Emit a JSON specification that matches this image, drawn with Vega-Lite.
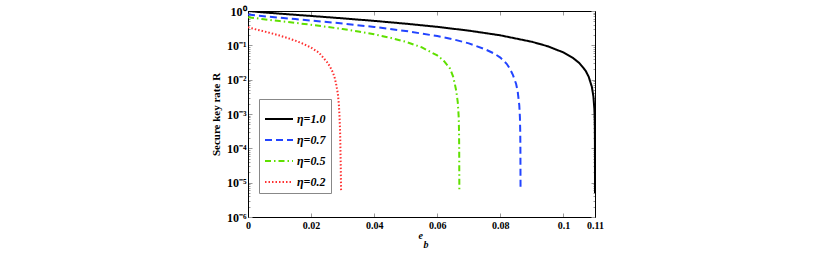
{
  "$schema": "https://vega.github.io/schema/vega-lite/v6.json",
  "width": 347,
  "height": 206,
  "autosize": "none",
  "padding": {"left": 248, "top": 11, "right": 235, "bottom": 40},
  "background": "white",
  "config": {
    "view": {"stroke": "#000", "strokeWidth": 1},
    "font": "Liberation Serif, serif"
  },
  "data": {
    "values": [
      {"e": 0, "R": 1.0, "s": "η=1.0"},
      {"e": 0.005, "R": 0.9092, "s": "η=1.0"},
      {"e": 0.01, "R": 0.8384, "s": "η=1.0"},
      {"e": 0.015, "R": 0.7753, "s": "η=1.0"},
      {"e": 0.02, "R": 0.7171, "s": "η=1.0"},
      {"e": 0.03, "R": 0.6112, "s": "η=1.0"},
      {"e": 0.04, "R": 0.5154, "s": "η=1.0"},
      {"e": 0.05, "R": 0.4272, "s": "η=1.0"},
      {"e": 0.06, "R": 0.3452, "s": "η=1.0"},
      {"e": 0.07, "R": 0.268, "s": "η=1.0"},
      {"e": 0.08, "R": 0.1956, "s": "η=1.0"},
      {"e": 0.09, "R": 0.1269, "s": "η=1.0"},
      {"e": 0.095, "R": 0.0941, "s": "η=1.0"},
      {"e": 0.1, "R": 0.062, "s": "η=1.0"},
      {"e": 0.103, "R": 0.0431, "s": "η=1.0"},
      {"e": 0.105, "R": 0.0307, "s": "η=1.0"},
      {"e": 0.107, "R": 0.0184, "s": "η=1.0"},
      {"e": 0.108, "R": 0.0122, "s": "η=1.0"},
      {"e": 0.109, "R": 0.0062, "s": "η=1.0"},
      {"e": 0.1095, "R": 0.0032, "s": "η=1.0"},
      {"e": 0.1098, "R": 0.0014, "s": "η=1.0"},
      {"e": 0.1099, "R": 0.0008, "s": "η=1.0"},
      {"e": 0.10995, "R": 0.0004, "s": "η=1.0"},
      {"e": 0.10998, "R": 0.0001, "s": "η=1.0"},
      {"e": 0.10999, "R": 0.00003, "s": "η=1.0"},
      {"e": 0.11, "R": 0.000005, "s": "η=1.0"},

      {"e": 0, "R": 0.79, "s": "η=0.7"},
      {"e": 0.005, "R": 0.705, "s": "η=0.7"},
      {"e": 0.01, "R": 0.64, "s": "η=0.7"},
      {"e": 0.015, "R": 0.582, "s": "η=0.7"},
      {"e": 0.02, "R": 0.528, "s": "η=0.7"},
      {"e": 0.03, "R": 0.432, "s": "η=0.7"},
      {"e": 0.04, "R": 0.343, "s": "η=0.7"},
      {"e": 0.05, "R": 0.262, "s": "η=0.7"},
      {"e": 0.06, "R": 0.186, "s": "η=0.7"},
      {"e": 0.065, "R": 0.15, "s": "η=0.7"},
      {"e": 0.07, "R": 0.114, "s": "η=0.7"},
      {"e": 0.075, "R": 0.078, "s": "η=0.7"},
      {"e": 0.078, "R": 0.058, "s": "η=0.7"},
      {"e": 0.08, "R": 0.044, "s": "η=0.7"},
      {"e": 0.082, "R": 0.029, "s": "η=0.7"},
      {"e": 0.083, "R": 0.021, "s": "η=0.7"},
      {"e": 0.084, "R": 0.0135, "s": "η=0.7"},
      {"e": 0.085, "R": 0.0075, "s": "η=0.7"},
      {"e": 0.0855, "R": 0.0045, "s": "η=0.7"},
      {"e": 0.086, "R": 0.0018, "s": "η=0.7"},
      {"e": 0.0862, "R": 0.0008, "s": "η=0.7"},
      {"e": 0.0863, "R": 0.0003, "s": "η=0.7"},
      {"e": 0.08635, "R": 0.0001, "s": "η=0.7"},
      {"e": 0.0864, "R": 0.000006, "s": "η=0.7"},

      {"e": 0, "R": 0.66, "s": "η=0.5"},
      {"e": 0.005, "R": 0.5755, "s": "η=0.5"},
      {"e": 0.01, "R": 0.5096, "s": "η=0.5"},
      {"e": 0.015, "R": 0.4508, "s": "η=0.5"},
      {"e": 0.02, "R": 0.3969, "s": "η=0.5"},
      {"e": 0.025, "R": 0.3461, "s": "η=0.5"},
      {"e": 0.03, "R": 0.2982, "s": "η=0.5"},
      {"e": 0.035, "R": 0.2526, "s": "η=0.5"},
      {"e": 0.04, "R": 0.2091, "s": "η=0.5"},
      {"e": 0.045, "R": 0.1672, "s": "η=0.5"},
      {"e": 0.05, "R": 0.127, "s": "η=0.5"},
      {"e": 0.055, "R": 0.0881, "s": "η=0.5"},
      {"e": 0.06, "R": 0.0507, "s": "η=0.5"},
      {"e": 0.062, "R": 0.036, "s": "η=0.5"},
      {"e": 0.064, "R": 0.0214, "s": "η=0.5"},
      {"e": 0.065, "R": 0.0125, "s": "η=0.5"},
      {"e": 0.0655, "R": 0.008, "s": "η=0.5"},
      {"e": 0.066, "R": 0.0048, "s": "η=0.5"},
      {"e": 0.0665, "R": 0.0022, "s": "η=0.5"},
      {"e": 0.0668, "R": 0.0008, "s": "η=0.5"},
      {"e": 0.0669, "R": 0.0003, "s": "η=0.5"},
      {"e": 0.06695, "R": 0.0001, "s": "η=0.5"},
      {"e": 0.067, "R": 0.000006, "s": "η=0.5"},

      {"e": 0, "R": 0.336, "s": "η=0.2"},
      {"e": 0.0025, "R": 0.291, "s": "η=0.2"},
      {"e": 0.005, "R": 0.256, "s": "η=0.2"},
      {"e": 0.0075, "R": 0.223, "s": "η=0.2"},
      {"e": 0.01, "R": 0.193, "s": "η=0.2"},
      {"e": 0.0125, "R": 0.164, "s": "η=0.2"},
      {"e": 0.015, "R": 0.137, "s": "η=0.2"},
      {"e": 0.0175, "R": 0.111, "s": "η=0.2"},
      {"e": 0.02, "R": 0.0857, "s": "η=0.2"},
      {"e": 0.0225, "R": 0.061, "s": "η=0.2"},
      {"e": 0.025, "R": 0.033, "s": "η=0.2"},
      {"e": 0.026, "R": 0.024, "s": "η=0.2"},
      {"e": 0.027, "R": 0.0155, "s": "η=0.2"},
      {"e": 0.0275, "R": 0.0112, "s": "η=0.2"},
      {"e": 0.028, "R": 0.007, "s": "η=0.2"},
      {"e": 0.0285, "R": 0.0038, "s": "η=0.2"},
      {"e": 0.0288, "R": 0.0019, "s": "η=0.2"},
      {"e": 0.029, "R": 0.0009, "s": "η=0.2"},
      {"e": 0.0292, "R": 0.0003, "s": "η=0.2"},
      {"e": 0.0293, "R": 0.0001, "s": "η=0.2"},
      {"e": 0.0294, "R": 0.00003, "s": "η=0.2"},
      {"e": 0.0295, "R": 0.000006, "s": "η=0.2"}
    ]
  },
  "layer": [
    {
      "mark": {"type": "line", "clip": true},
      "encoding": {
        "x": {
          "field": "e", "type": "quantitative",
          "scale": {"domain": [0, 0.11], "nice": false, "zero": false},
          "axis": {
            "orient": "bottom",
            "values": [0, 0.02, 0.04, 0.06, 0.08, 0.1, 0.11],
            "labelExpr": "datum.value == 0 ? '0' : format(datum.value, '.2~f')",
            "grid": false,
            "domainColor": "#000",
            "domainWidth": 1,
            "tickColor": "#999",
            "tickSize": -4,
            "labelPadding": 7,
            "labelFlush": false,
            "labelOverlap": false,
            "labelFont": "Liberation Serif, serif",
            "labelFontSize": 10,
            "labelFontWeight": "bold",
            "labelColor": "#000",
            "title": ["e", "\u200b\u00a0\u00a0b"],
            "titleAlign": "left",
            "titleX": 170,
            "titleFont": "Liberation Serif, serif",
            "titleFontSize": 10,
            "titleFontStyle": "italic",
            "titleFontWeight": "bold",
            "titleLineHeight": 9,
            "titlePadding": 0,
            "titleColor": "#000"
          }
        },
        "y": {
          "field": "R", "type": "quantitative",
          "scale": {"type": "log", "domain": [0.000001, 1], "nice": false},
          "axis": {
            "orient": "left",
            "values": [1e-6, 2e-6, 3e-6, 4e-6, 5e-6, 6e-6, 7e-6, 8e-6, 9e-6, 1e-5, 2e-5, 3e-5, 4e-5, 5e-5, 6e-5, 7e-5, 8e-5, 9e-5, 1e-4, 2e-4, 3e-4, 4e-4, 5e-4, 6e-4, 7e-4, 8e-4, 9e-4, 1e-3, 2e-3, 3e-3, 4e-3, 5e-3, 6e-3, 7e-3, 8e-3, 9e-3, 1e-2, 2e-2, 3e-2, 4e-2, 5e-2, 6e-2, 7e-2, 8e-2, 9e-2, 0.1, 0.2, 0.3, 0.4, 0.5, 0.6, 0.7, 0.8, 0.9, 1],
            "labelExpr": "abs(log(datum.value)/LN10 - round(log(datum.value)/LN10)) > 0.001 ? '' : (round(log(datum.value)/LN10) == 0 ? '10⁰' : round(log(datum.value)/LN10) == -1 ? '10⁻¹' : round(log(datum.value)/LN10) == -2 ? '10⁻²' : round(log(datum.value)/LN10) == -3 ? '10⁻³' : round(log(datum.value)/LN10) == -4 ? '10⁻⁴' : round(log(datum.value)/LN10) == -5 ? '10⁻⁵' : '10⁻⁶')",
            "grid": false,
            "domainColor": "#000",
            "domainWidth": 1,
            "tickColor": "#999",
            "tickSize": {"condition": {"test": "abs(log(datum.value)/LN10 - round(log(datum.value)/LN10)) < 0.001", "value": -4}, "value": -2},
            "labelPadding": 6,
            "labelOverlap": false,
            "labelFont": "Liberation Serif, serif",
            "labelFontSize": 12,
            "labelFontWeight": "bold",
            "labelColor": "#000",
            "title": "Secure key rate R",
            "titleFont": "Liberation Serif, serif",
            "titleFontSize": 11,
            "titleFontWeight": "bold",
            "titleColor": "#000",
            "titlePadding": 5
          }
        },
        "color": {
          "field": "s", "type": "nominal",
          "scale": {"domain": ["η=1.0", "η=0.7", "η=0.5", "η=0.2"], "range": ["#000000", "#2244ff", "#5fe000", "#ff3030"]},
          "legend": {
            "orient": "none", "legendX": 11, "legendY": 88,
            "title": null,
            "symbolType": "stroke",
            "symbolSize": 784,
            "symbolStrokeWidth": 2,
            "rowPadding": -7,
            "padding": 5,
            "strokeColor": "#888",
            "fillColor": "#ffffff",
            "labelFont": "Liberation Serif, serif",
            "labelFontSize": 12,
            "labelFontWeight": "bold",
            "labelFontStyle": "italic",
            "labelColor": "#000",
            "labelOffset": 3
          }
        },
        "strokeDash": {
          "field": "s", "type": "nominal",
          "scale": {"domain": ["η=1.0", "η=0.7", "η=0.5", "η=0.2"], "range": [[1, 0], [7, 4], [6, 3, 1.5, 3], [1.5, 2]]},
          "legend": {
            "orient": "none", "legendX": 11, "legendY": 88,
            "title": null,
            "symbolType": "stroke",
            "symbolSize": 784,
            "symbolStrokeWidth": 2,
            "rowPadding": -7,
            "padding": 5,
            "strokeColor": "#888",
            "fillColor": "#ffffff",
            "labelFont": "Liberation Serif, serif",
            "labelFontSize": 12,
            "labelFontWeight": "bold",
            "labelFontStyle": "italic",
            "labelColor": "#000",
            "labelOffset": 3
          }
        },
        "strokeWidth": {
          "field": "s", "type": "nominal",
          "scale": {"domain": ["η=1.0", "η=0.7", "η=0.5", "η=0.2"], "range": [2, 2, 1.6, 1.5]},
          "legend": null
        },
        "order": {"field": "e", "type": "quantitative"}
      }
    },
    {
      "mark": {"type": "line", "opacity": 0},
      "encoding": {
        "x": {
          "field": "e", "type": "quantitative",
          "axis": {
            "orient": "top",
            "values": [0, 0.02, 0.04, 0.06, 0.08, 0.1, 0.11],
            "labels": false,
            "grid": false,
            "domainColor": "#000",
            "tickColor": "#999",
            "tickSize": -4,
            "title": null
          }
        },
        "y": {
          "field": "R", "type": "quantitative",
          "axis": {
            "orient": "right",
            "values": [1e-6, 2e-6, 3e-6, 4e-6, 5e-6, 6e-6, 7e-6, 8e-6, 9e-6, 1e-5, 2e-5, 3e-5, 4e-5, 5e-5, 6e-5, 7e-5, 8e-5, 9e-5, 1e-4, 2e-4, 3e-4, 4e-4, 5e-4, 6e-4, 7e-4, 8e-4, 9e-4, 1e-3, 2e-3, 3e-3, 4e-3, 5e-3, 6e-3, 7e-3, 8e-3, 9e-3, 1e-2, 2e-2, 3e-2, 4e-2, 5e-2, 6e-2, 7e-2, 8e-2, 9e-2, 0.1, 0.2, 0.3, 0.4, 0.5, 0.6, 0.7, 0.8, 0.9, 1],
            "labels": false,
            "grid": false,
            "domainColor": "#000",
            "tickColor": "#999",
            "tickSize": {"condition": {"test": "abs(log(datum.value)/LN10 - round(log(datum.value)/LN10)) < 0.001", "value": -4}, "value": -2},
            "title": null
          }
        }
      }
    }
  ],
  "resolve": {"axis": {"x": "independent", "y": "independent"}}
}
